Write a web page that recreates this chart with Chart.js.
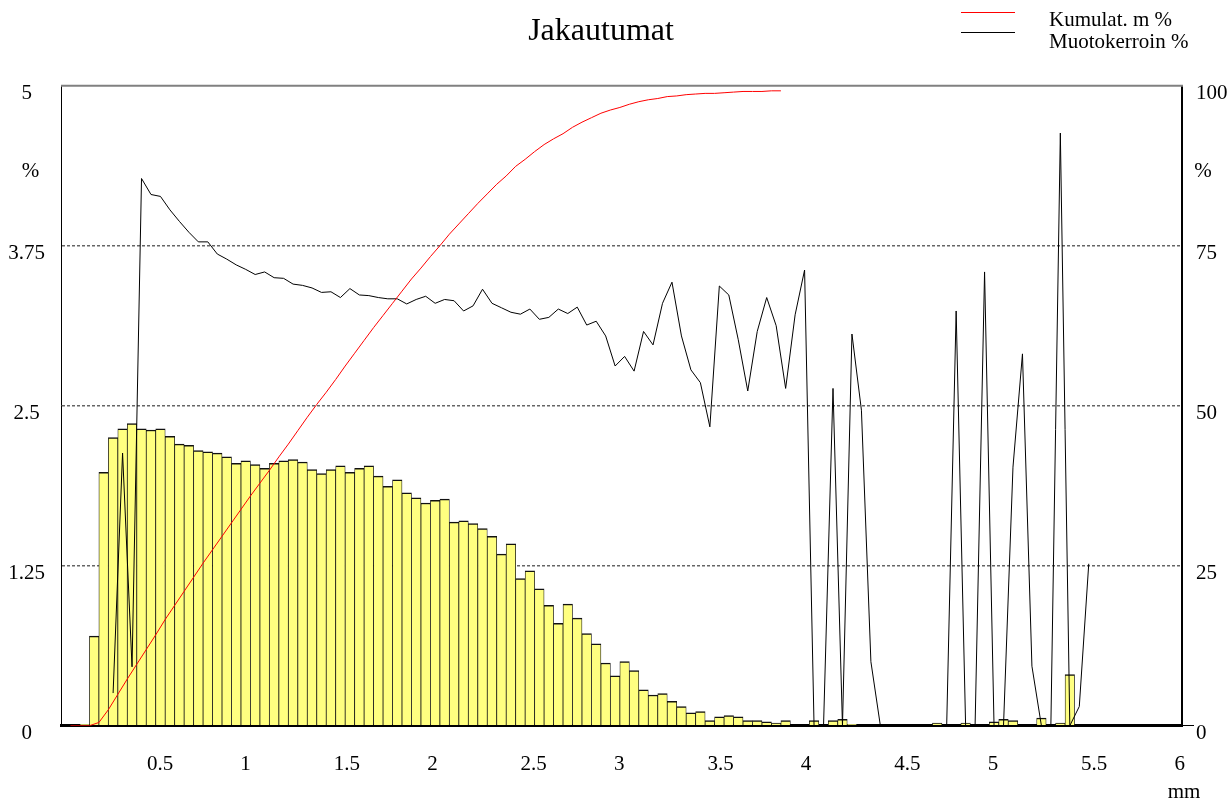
<!DOCTYPE html>
<html>
<head>
<meta charset="utf-8">
<title>Jakautumat</title>
<script src="https://cdn.jsdelivr.net/npm/chart.js@4.4.0/dist/chart.umd.min.js"></script>
<style>
  html, body { margin: 0; padding: 0; background: #fff; }
</style>
</head>
<body>
<canvas id="chart" width="1230" height="800"></canvas>
<script>
// width of one size class in mm, classes counted from 0 mm
const classWidth = 0.0507

// mass % per size class, classes 1..108
const massPct = [
  0, 0.01, 0.70, 1.98, 2.25, 2.32, 2.36, 2.32, 2.31, 2.32,
  2.26, 2.20, 2.19, 2.15, 2.14, 2.13, 2.10, 2.05, 2.07, 2.04,
  2.01, 2.05, 2.07, 2.08, 2.06, 2.00, 1.97, 2.00, 2.03, 1.98,
  2.01, 2.03, 1.95, 1.87, 1.92, 1.82, 1.78, 1.74, 1.76, 1.77,
  1.59, 1.60, 1.58, 1.54, 1.48, 1.34, 1.42, 1.15, 1.21, 1.07,
  0.94, 0.80, 0.95, 0.84, 0.72, 0.64, 0.49, 0.39, 0.50, 0.43,
  0.28, 0.24, 0.25, 0.19, 0.15, 0.10, 0.11, 0.04, 0.07, 0.08,
  0.07, 0.04, 0.04, 0.03, 0.02, 0.04, 0, 0, 0.04, 0,
  0.04, 0.05, 0.01, 0, 0, 0, 0, 0, 0, 0,
  0, 0.02, 0.005, 0, 0.02, 0, 0, 0.03, 0.05, 0.04,
  0, 0, 0.06, 0, 0.02, 0.40, 0, 0
]

// shape factor % per size class, classes 5..108
const shapeFirstClass = 5
const shapePct = [
  5.1, 42.6, 9.2, 85.5, 83.0, 82.7, 80.6, 78.8, 77.1, 75.6,
  75.6, 73.7, 72.9, 72.0, 71.3, 70.5, 70.9, 70.0, 69.9, 69.0,
  68.8, 68.4, 67.7, 67.8, 66.9, 68.3, 67.3, 67.2, 66.9, 66.7,
  66.7, 65.9, 66.6, 67.1, 66.0, 66.6, 66.4, 64.8, 65.6, 68.2,
  66.0, 65.3, 64.6, 64.3, 65.1, 63.5, 63.8, 65.1, 64.4, 65.4,
  62.6, 63.2, 60.9, 56.2, 57.7, 55.4, 61.6, 59.5, 66.0, 69.3,
  60.9, 55.6, 53.6, 46.7, 68.7, 67.3, 60.3, 52.3, 61.6, 66.9,
  62.5, 52.7, 64.2, 71.2, 0, 0, 52.7, 0, 61.2, 49.3,
  10.0, 0, 0, 0, 0, 0, 0, 0, 0, 64.8,
  0, 0, 70.9, 0, 0, 40.4, 58.1, 9.3, 0, 0,
  92.6, 0, 3.0, 25.3
]

// cumulative mass % at the upper limit of classes 0..75
const cumulPct = [
  0, 0, 0, 0.5, 2.5, 4.9, 7.3, 9.6, 11.9, 14.2,
  16.6, 18.8, 21.0, 23.2, 25.4, 27.5, 29.6, 31.7, 33.8, 35.9,
  37.9, 39.9, 42.0, 44.0, 46.1, 48.2, 50.2, 52.1, 54.1, 56.2,
  58.2, 60.2, 62.2, 64.1, 66.0, 67.9, 69.8, 71.5, 73.3, 75.0,
  76.8, 78.4, 80.0, 81.6, 83.1, 84.6, 85.9, 87.4, 88.5, 89.7,
  90.8, 91.7, 92.5, 93.5, 94.3, 95.0, 95.7, 96.2, 96.6, 97.1,
  97.5, 97.8, 98.0, 98.3, 98.4, 98.6, 98.7, 98.8, 98.8, 98.9,
  99.0, 99.1, 99.1, 99.1, 99.2, 99.2
]

const serif = 'Liberation Serif'

// bars sit on class centres, the cumulative curve on upper class limits
const barPts = massPct.map((v, i) => ({ x: (i + 1.5) * classWidth, y: v }))
const shapePts = shapePct.map((v, i) => ({ x: (i + shapeFirstClass + 0.5) * classWidth, y: v }))
const cumulPts = cumulPct.map((v, i) => ({ x: (i + 1) * classWidth, y: v }))

// title, frame top, legend and unit labels
const frame = {
    id: 'frame',
    afterDatasetsDraw(chart) {
        const { ctx, chartArea: a } = chart
        ctx.save()
        ctx.strokeStyle = '#808080'
        ctx.lineWidth = 2
        ctx.beginPath()
        ctx.moveTo(a.left, a.top)
        ctx.lineTo(a.right + 1, a.top)
        ctx.stroke()
        ctx.restore()
    },
    afterDraw(chart) {
        const ctx = chart.ctx
        ctx.save()
        ctx.fillStyle = '#000'
        ctx.textAlign = 'center'
        ctx.textBaseline = 'middle'
        ctx.font = '32px "' + serif + '"'
        ctx.fillText('Jakautumat', 601, 32)

        ctx.font = '21px "' + serif + '"'
        ctx.fillText('%', 30.5, 171)
        ctx.fillText('%', 1203, 171)
        ctx.textBaseline = 'alphabetic'
        ctx.fillText('mm', 1184, 797.5)

        const baselines = [26, 48]
        chart.data.datasets.filter(d => d.type === 'line').forEach((d, i) => {
            const y = 12.5 + i * 20
            ctx.strokeStyle = d.borderColor
            ctx.lineWidth = 1
            ctx.beginPath()
            ctx.moveTo(961, y)
            ctx.lineTo(1015, y)
            ctx.stroke()
            ctx.textAlign = 'left'
            ctx.fillText(d.label, 1049, baselines[i])
        })
        ctx.restore()
    }
}

const tickFont = { family: serif, size: 21 }

new Chart(document.getElementById('chart'), {
    type: 'bar',
    data: {
        datasets: [
            {
                type: 'line',
                label: 'Kumulat. m %',
                data: cumulPts,
                yAxisID: 'y2',
                borderColor: '#ff0000',
                borderWidth: 1,
                pointRadius: 0,
                tension: 0,
                order: 1
            },
            {
                type: 'line',
                label: 'Muotokerroin %',
                data: shapePts,
                yAxisID: 'y2',
                borderColor: '#000000',
                borderWidth: 1,
                pointRadius: 0,
                tension: 0,
                order: 2
            },
            {
                type: 'bar',
                label: 'm %',
                data: barPts,
                yAxisID: 'y',
                backgroundColor: '#ffff80',
                borderColor: '#111',
                borderWidth: { top: 1.5, left: 0.75, right: 0.75, bottom: 0 },
                barPercentage: 1,
                categoryPercentage: 1,
                order: 3
            }
        ]
    },
    options: {
        responsive: false,
        animation: false,
        devicePixelRatio: 1,
        layout: { padding: { left: 0, right: 0, top: 85.7, bottom: 0 } },
        plugins: {
            legend: { display: false },
            tooltip: { enabled: false },
            title: { display: false }
        },
        scales: {
            x: {
                type: 'linear',
                min: 0,
                max: 6,
                offset: false,
                z: 1,
                grid: { display: false, offset: false, drawTicks: false },
                border: { display: true, color: '#000', width: 3 },
                ticks: {
                    stepSize: 0.5,
                    autoSkip: false,
                    maxRotation: 0,
                    align: 'start',
                    labelOffset: -7.5,
                    padding: 26.4,
                    color: '#000',
                    font: tickFont,
                    callback: v => v === 0 ? '' : String(v)
                },
                afterFit: s => { s.height = 74.3 }
            },
            y: {
                position: 'left',
                min: 0,
                max: 5,
                grid: {
                    drawTicks: false,
                    lineWidth: 1.5,
                    color: c => (c.tick && c.tick.value > 0 && c.tick.value < 5) ? '#666' : 'rgba(0,0,0,0)'
                },
                border: { display: true, color: '#000', width: 1, dash: [3, 2] },
                ticks: {
                    stepSize: 1.25,
                    crossAlign: 'center',
                    padding: 16,
                    labelOffset: 8,
                    color: '#000',
                    font: tickFont,
                    callback: v => String(v)
                },
                afterFit: s => { s.width = 61 }
            },
            y2: {
                position: 'right',
                min: 0,
                max: 100,
                grid: {
                    drawOnChartArea: false,
                    drawTicks: true,
                    tickLength: 12,
                    color: c => (c.tick && c.tick.value === 0) ? '#000' : 'rgba(0,0,0,0)'
                },
                border: { display: true, color: '#000', width: 2 },
                ticks: {
                    stepSize: 25,
                    crossAlign: 'near',
                    padding: 2,
                    labelOffset: 8,
                    color: '#000',
                    font: tickFont,
                    callback: v => String(v)
                },
                afterFit: s => { s.width = 48 }
            }
        }
    },
    plugins: [frame]
})
</script>
</body>
</html>
